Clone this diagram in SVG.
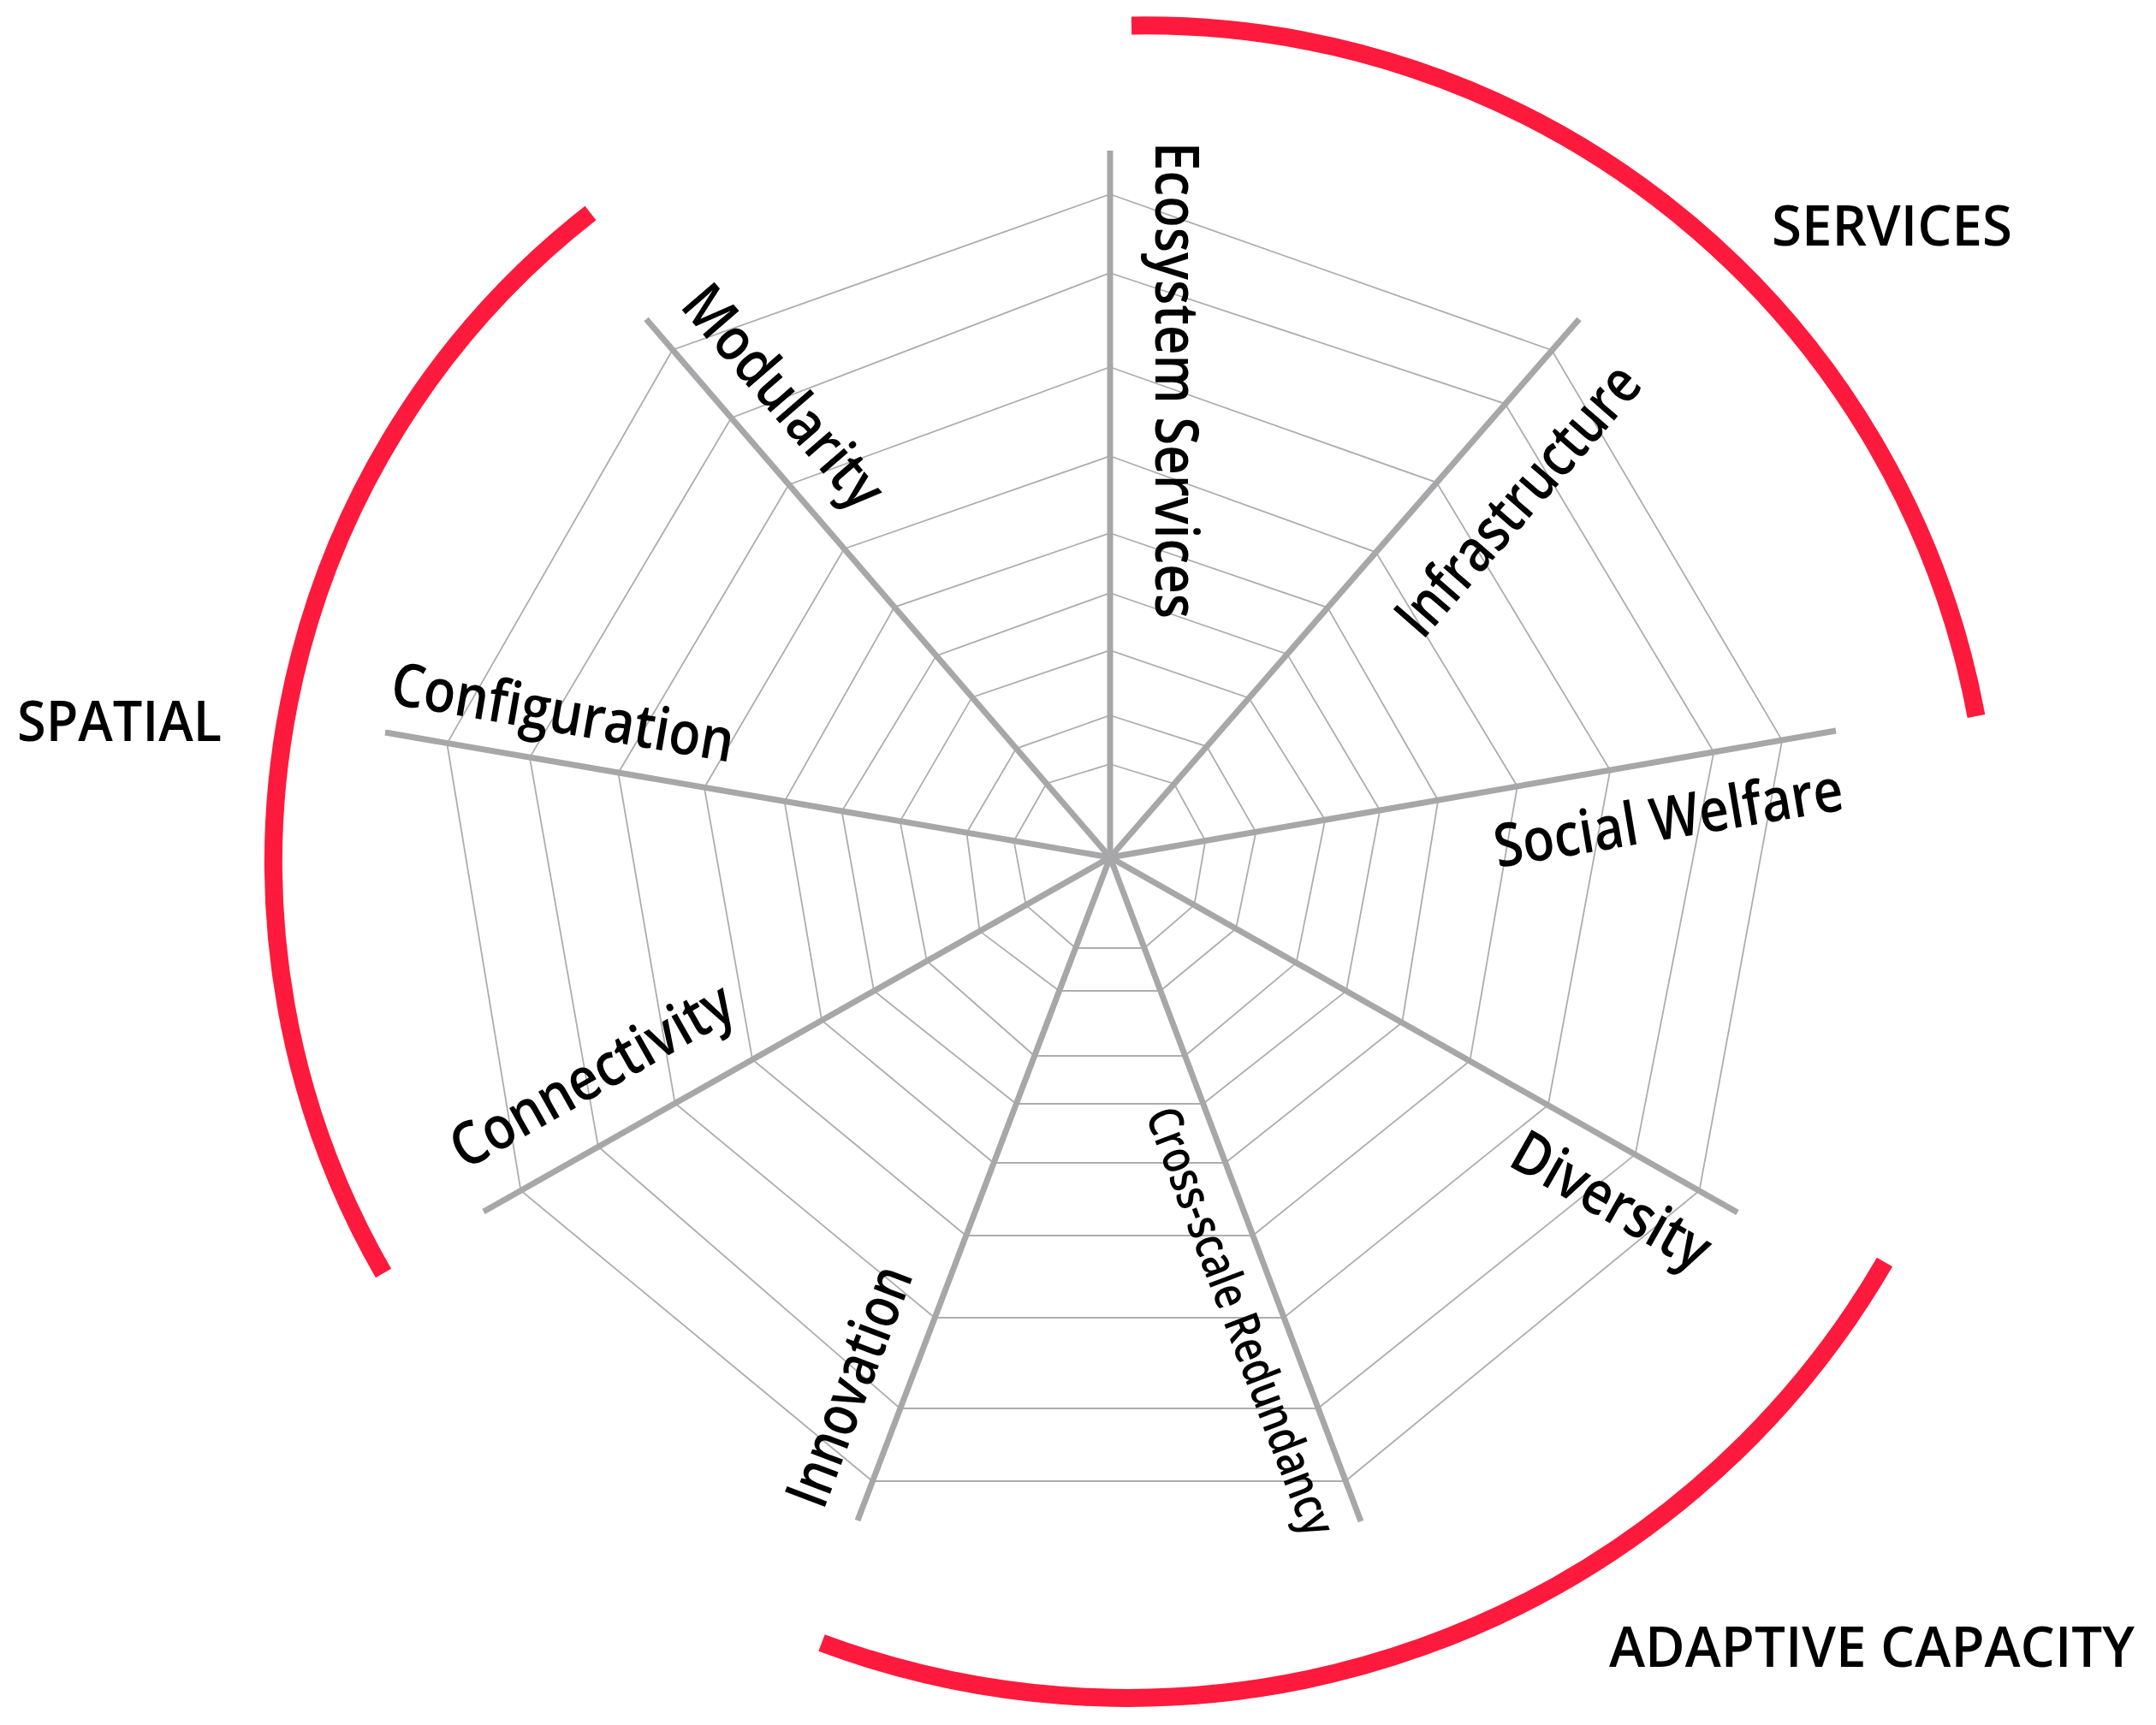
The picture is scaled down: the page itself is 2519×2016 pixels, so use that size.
<svg xmlns="http://www.w3.org/2000/svg" width="2519" height="2016" viewBox="0 0 2519 2016">
<style>
.ring{fill:none;stroke:#adadad;stroke-width:1.8;stroke-linejoin:miter}
.axis{stroke:#a7a7a9;stroke-width:7;stroke-linecap:butt}
.arc{fill:none;stroke:#fe1a3c;stroke-width:21;stroke-linecap:butt}
.lbl{font-family:"Open Sans","Liberation Sans",sans-serif;font-weight:600;font-size:70px;fill:#000}
.sm{font-size:56px}
.cat{font-family:"Open Sans","Liberation Sans",sans-serif;font-weight:600;font-size:65px;fill:#000}
</style>
<rect width="2519" height="2016" fill="#fff"/>
<g id="grid">
<polygon class="ring" points="1297,227 1813,409.2 2082.1,865.1 1985.5,1391.5 1571.9,1731 1019.2,1731 608.4,1391.2 522.3,868.8 785.7,409"/>
<polygon class="ring" points="1297,319 1758.5,471.8 2002.3,879 1910.6,1349.1 1539.9,1646 1051.6,1646 698.9,1340 618.9,885.4 854.3,488.5"/>
<polygon class="ring" points="1297,429 1678.4,563.8 1881.2,900.1 1808.8,1291.5 1499.9,1540 1092,1540 788.6,1289.3 722.4,903.2 921.5,566.5"/>
<polygon class="ring" points="1297,533 1607.5,645.3 1772.8,919 1717.4,1239.8 1463.7,1444 1128.6,1444 879.1,1238.2 822.9,920.5 986.2,641.5"/>
<polygon class="ring" points="1297,623 1551.1,710.1 1680.2,935.2 1638.2,1195 1431.6,1359 1160.9,1359 960.1,1192.4 916.6,936.6 1044.9,709.6"/>
<polygon class="ring" points="1297,693 1503.8,764.4 1612.2,947 1572.9,1158.1 1405.6,1290 1187.2,1290 1021,1158 983.6,948.1 1093.9,766.4"/>
<polygon class="ring" points="1297,760 1459.2,815.7 1548.2,958.2 1514.6,1125.1 1384.5,1234 1208.6,1234 1082.8,1123 1051.6,959.8 1135.7,814.9"/>
<polygon class="ring" points="1297,836 1409.9,872.3 1467.4,972.3 1444.1,1085.2 1355.8,1158 1237.5,1158 1144.6,1088.1 1129.4,973.2 1187.3,874.8"/>
<polygon class="ring" points="1297,893 1371.8,916 1408.3,982.6 1395.4,1057.6 1337,1108 1256.6,1108 1198.6,1057.6 1184.6,982.7 1222.6,915.7"/>
</g>
<g id="axes">
<line class="axis" x1="1297" y1="1002" x2="1297" y2="176"/>
<line class="axis" x1="1297" y1="1002" x2="1845" y2="373"/>
<line class="axis" x1="1297" y1="1002" x2="2145" y2="854"/>
<line class="axis" x1="1297" y1="1002" x2="2030" y2="1417"/>
<line class="axis" x1="1297" y1="1002" x2="1590" y2="1778"/>
<line class="axis" x1="1297" y1="1002" x2="1002" y2="1777"/>
<line class="axis" x1="1297" y1="1002" x2="565" y2="1416"/>
<line class="axis" x1="1297" y1="1002" x2="450" y2="856"/>
<line class="axis" x1="1297" y1="1002" x2="755" y2="373"/>
</g>
<g id="axis-labels">
<text id="lbl-ecosystem" class="lbl" transform="translate(1350,166) rotate(90)" textLength="557" lengthAdjust="spacingAndGlyphs">Ecosystem Services</text>
<text id="lbl-infrastructure" class="lbl" transform="translate(1662,749) rotate(-49)" textLength="395" lengthAdjust="spacingAndGlyphs">Infrastructure</text>
<text id="lbl-social" class="lbl" transform="translate(1750,1014) rotate(-9.5)" textLength="412" lengthAdjust="spacingAndGlyphs">Social Welfare</text>
<text id="lbl-diversity" class="lbl" transform="translate(1760,1361) rotate(29.5)" textLength="255" lengthAdjust="spacingAndGlyphs">Diversity</text>
<text id="lbl-cross" class="lbl sm" transform="translate(1338,1303) rotate(69.3)" textLength="530" lengthAdjust="spacingAndGlyphs">Cross-scale Redundancy</text>
<text id="lbl-innovation" class="lbl" transform="translate(962,1766) rotate(-69.1)" textLength="295" lengthAdjust="spacingAndGlyphs">Innovation</text>
<text id="lbl-connectivity" class="lbl" transform="translate(543,1368) rotate(-29.5)" textLength="368" lengthAdjust="spacingAndGlyphs">Connectivity</text>
<text id="lbl-configuration" class="lbl" transform="translate(454,822) rotate(9.8)" textLength="405" lengthAdjust="spacingAndGlyphs">Configuration</text>
<text id="lbl-modularity" class="lbl" transform="translate(793,358) rotate(49.2)" textLength="320" lengthAdjust="spacingAndGlyphs">Modularity</text>
</g>
<g id="groups">
<path id="arc-services" class="arc" d="M 1322 30 A 987 987 0 0 1 2309 837"/>
<path id="arc-spatial" class="arc" d="M 690 249 A 962 962 0 0 0 448 1488"/>
<path id="arc-adaptive" class="arc" d="M 960 1920 A 1023 1023 0 0 0 2202 1475"/>
<text id="cat-services" class="cat" x="2070" y="287" textLength="281" lengthAdjust="spacingAndGlyphs">SERVICES</text>
<text id="cat-spatial" class="cat" x="20" y="866" textLength="239" lengthAdjust="spacingAndGlyphs">SPATIAL</text>
<text id="cat-adaptive" class="cat" x="1880" y="1948" textLength="614" lengthAdjust="spacingAndGlyphs">ADAPTIVE CAPACITY</text>
</g>
</svg>
